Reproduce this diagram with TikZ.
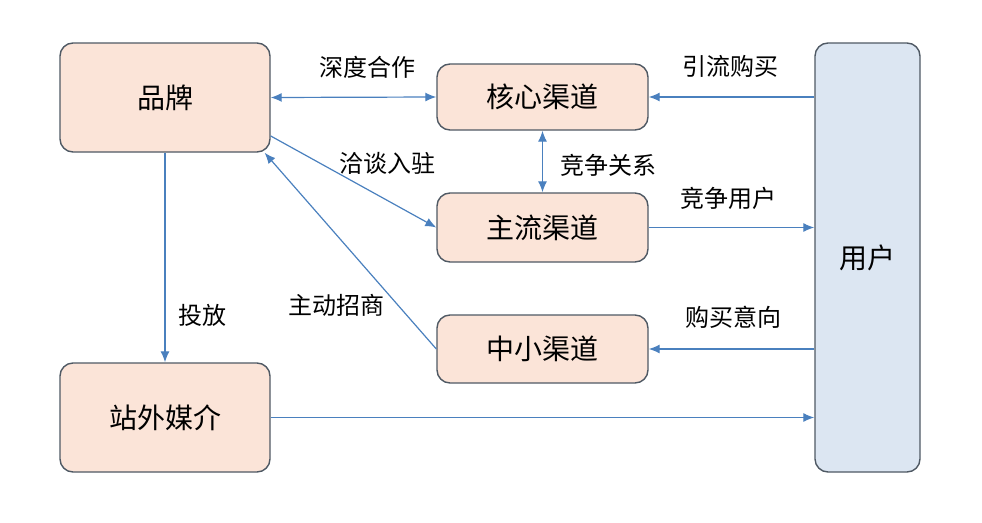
\documentclass[tikz,border=0pt]{standalone}
\usepackage{fontspec}
\usepackage{xcolor}
\usepackage{tikz}
\usetikzlibrary{arrows.meta}
\setmainfont{Noto Sans CJK SC}

\definecolor{boxline}{HTML}{4F5964}
\definecolor{peach}{HTML}{FBE4D8}
\definecolor{paleblue}{HTML}{DCE6F2}
\definecolor{arrowblue}{HTML}{4A80BE}

\tikzset{
	chbox/.style={draw=boxline, line width=1.4pt, fill=peach, rounded corners=13pt, inner sep=0pt, font=\fontsize{28}{30}\selectfont},
	userbox/.style={chbox, fill=paleblue},
	lbl/.style={font=\fontsize{24}{26}\selectfont},
	link/.style={draw=arrowblue, line width=1.2pt, -{Latex[length=11pt,width=9pt]}},
	twoway/.style={link, {Latex[length=11pt,width=9pt]}-{Latex[length=11pt,width=9pt]}}
}

\begin{document}
\begin{tikzpicture}[x=1pt, y=-1pt]
	
	\useasboundingbox (0,0) rectangle (982,522);
	
	\node[chbox, minimum width=210pt, minimum height=109pt] (brand) at (165,97.5) {品牌};
	\node[chbox, minimum width=210pt, minimum height=109pt] (media) at (165,417.5) {站外媒介};
	\node[chbox, minimum width=211pt, minimum height=66pt] (core) at (542.5,97) {核心渠道};
	\node[chbox, minimum width=211pt, minimum height=69pt] (mainch) at (542.5,227.5) {主流渠道};
	\node[chbox, minimum width=211pt, minimum height=68pt] (smallch) at (542.5,349) {中小渠道};
	\node[userbox, minimum width=105pt, minimum height=429pt] (user) at (867.5,257.5) {用户};
	
	\draw[twoway] (brand.east) -- (core.west);
	\draw[twoway] (core.south) -- (mainch.north);
	\draw[link] (brand.-20) -- (mainch.west);
	\draw[link] (smallch.west) -- (brand.-29);
	\draw[link] (brand.south) -- (media.north);
	
	\draw[link] (core.east -| user.west) -- (core.east);
	\draw[link] (mainch.east) -- (mainch.east -| user.west);
	\draw[link] (smallch.east -| user.west) -- (smallch.east);
	\draw[link] (media.east) -- (media.east -| user.west);
	
	\node[lbl] (l1) at (367,67) {深度合作};
	\node[lbl] (l2) at (730,66) {引流购买};
	\node[lbl] (l3) at (608,165) {竞争关系};
	\node[lbl] (l4) at (387,163) {洽谈入驻};
	\node[lbl] (l5) at (728,198) {竞争用户};
	\node[lbl] (l6) at (336,305) {主动招商};
	\node[lbl] (l7) at (733,317) {购买意向};
	\node[lbl] (l8) at (202,315) {投放};
	 
\end{tikzpicture}
\end{document}
